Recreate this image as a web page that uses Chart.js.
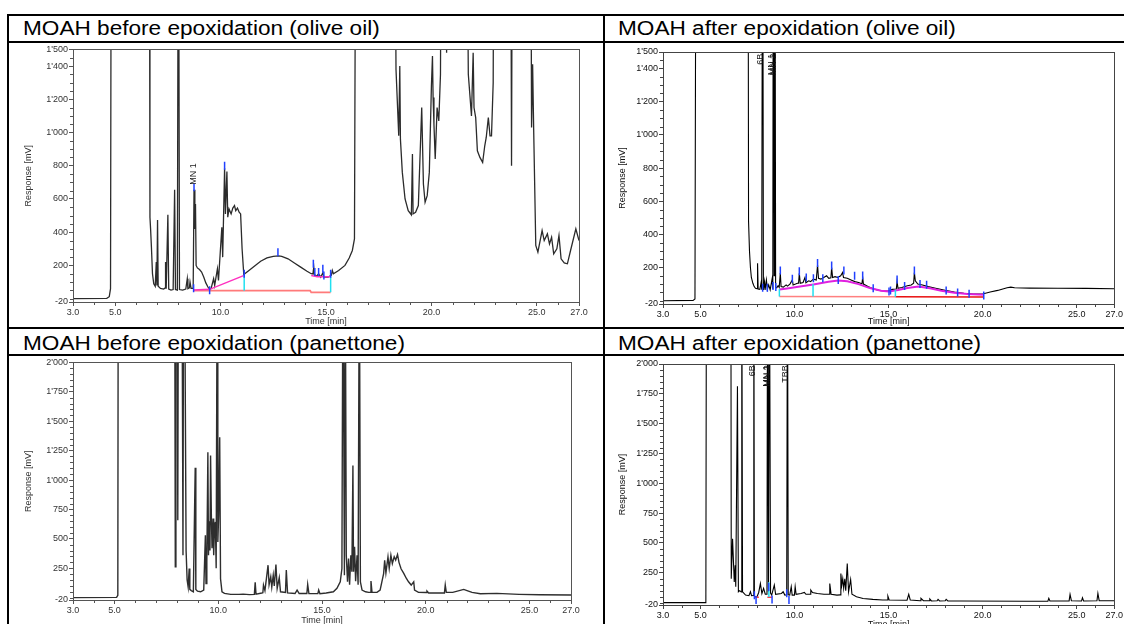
<!DOCTYPE html>
<html>
<head>
<meta charset="utf-8">
<script src="https://cdn.jsdelivr.net/npm/chart.js@4.4.0/dist/chart.umd.min.js"></script>
<style>
  body { margin: 0; background: #fff; width: 1124px; height: 624px; overflow: hidden; position: relative;
         font-family: "Liberation Sans", Arial, sans-serif; }
  .rule { position: absolute; background: #000; }
  .ttl { position: absolute; font-size: 20px; line-height: 20px; white-space: nowrap; color: #000;
         transform: scaleX(1.13); transform-origin: 0 0; }
  canvas { position: absolute; }
</style>
</head>
<body>
<div class="rule" style="left:7px;top:14px;width:1117px;height:2px"></div>
<div class="rule" style="left:7px;top:41px;width:1117px;height:2px"></div>
<div class="rule" style="left:7px;top:327px;width:1117px;height:2px"></div>
<div class="rule" style="left:7px;top:354px;width:1117px;height:2px"></div>
<div class="rule" style="left:7px;top:14px;width:2px;height:610px"></div>
<div class="rule" style="left:603px;top:14px;width:2px;height:610px"></div>

<div class="ttl" style="left:23px;top:18px">MOAH before epoxidation (olive oil)</div>
<div class="ttl" style="left:618px;top:18px">MOAH after epoxidation (olive oil)</div>
<div class="ttl" style="left:23px;top:333px">MOAH before epoxidation (panettone)</div>
<div class="ttl" style="left:618px;top:333px">MOAH after epoxidation (panettone)</div>

<canvas id="oliveBefore" width="594" height="284" style="left:9px;top:43px"></canvas>
<canvas id="oliveAfter" width="518" height="284" style="left:606px;top:43px"></canvas>
<canvas id="panBefore" width="594" height="270" style="left:9px;top:356px"></canvas>
<canvas id="panAfter" width="518" height="274" style="left:606px;top:356px"></canvas>

<script>
// ---- axis tick labels ----
const timeTicks = [3, 5, 10, 15, 20, 25, 27];
const oliveRespTicks = [-20, 200, 400, 600, 800, 1000, 1200, 1400, 1500];
const panRespTicks = [-20, 250, 500, 750, 1000, 1250, 1500, 1750, 2000];

// ---- MOAH before epoxidation (olive oil) ----
const obTime = [3.0, 4.6, 4.72, 4.78, 4.82, 6.62, 6.65, 6.68, 6.72, 6.77, 6.83, 6.9, 6.95, 6.98, 7.01, 7.04, 7.15, 7.3, 7.37, 7.39,
  7.42, 7.5, 7.54, 7.65, 7.75, 7.82, 7.86, 7.95, 8.0, 8.05, 8.2, 8.35, 8.42, 8.45, 8.52, 8.55, 8.6, 8.7, 8.74, 8.78,
  8.81, 8.84, 8.9, 9.0, 9.1, 9.2, 9.3, 9.4, 9.48, 9.55, 9.67, 9.72, 9.85, 9.9, 10.06, 10.1, 10.19, 10.23, 10.3, 10.34,
  10.4, 10.5, 10.58, 10.66, 10.72, 10.8, 10.88, 10.95, 11.02, 11.1, 11.3, 11.6, 11.9, 12.2, 12.5, 12.75, 12.9, 13.2, 13.5, 13.8,
  14.1, 14.3, 14.38, 14.42, 14.45, 14.55, 14.65, 14.75, 14.85, 14.9, 15.1, 15.25, 15.3, 15.35, 15.6, 15.9, 16.1, 16.25, 16.35, 16.42,
  18.25, 18.32, 18.45, 18.5, 18.53, 18.62, 18.75, 18.9, 19.05, 19.1, 19.13, 19.25, 19.38, 19.54, 19.62, 19.7, 19.8, 19.9, 20.0, 20.05,
  20.08, 20.12, 20.18, 20.27, 20.35, 20.43, 20.48, 20.7, 20.72, 20.74, 21.65, 21.75, 21.9, 21.98, 22.02, 22.1, 22.18, 22.3, 22.43, 22.53,
  22.6, 22.7, 22.78, 22.85, 22.93, 22.97, 23.75, 23.8, 23.85, 24.7, 24.75, 24.8, 24.85, 24.95, 25.05, 25.25, 25.35, 25.5, 25.6, 25.7,
  25.8, 25.95, 26.05, 26.15, 26.3, 26.45, 26.6, 26.85, 27.0];
const obResp = [0, 2, 12, 60, 3000, 3000, 490, 420, 310, 150, 90, 75, 220, 80, 474, 75, 62, 58, 65, 220,
  60, 505, 58, 52, 55, 656, 55, 52, 3000, 55, 52, 58, 120, 60, 65, 100, 62, 62, 655, 420,
  570, 200, 185, 175, 160, 130, 95, 70, 55, 62, 120, 80, 180, 110, 430, 250, 785, 510, 765, 490,
  540, 510, 545, 560, 530, 545, 520, 510, 300, 145, 165, 195, 225, 245, 255, 258, 255, 240, 215, 190,
  165, 150, 148, 190, 145, 135, 150, 130, 155, 130, 130, 140, 170, 150, 170, 200, 245, 290, 360, 3000,
  3000, 1380, 980, 1400, 960, 760, 600, 530, 505, 870, 510, 520, 560, 1150, 690, 580, 620, 760, 1280, 1460,
  1210, 1050, 840, 1150, 1070, 1350, 3000, 3000, 1480, 3000, 3000, 1350, 1100, 1480, 1150, 1090, 890, 850, 820, 920,
  970, 1090, 980, 980, 1300, 3000, 3000, 800, 3000, 3000, 1030, 1410, 1020, 320, 280, 410, 350, 390, 330, 370,
  270, 300, 380, 240, 215, 210, 290, 420, 350];
const obPinkTime = [8.72, 9.48, 11.12];
const obPinkResp = [52, 56, 140];
const obPink2Time = [14.3, 14.6, 15.22];
const obPink2Resp = [140, 132, 132];
const obRedTime = [8.72, 14.25, 14.3, 15.22];
const obRedResp = [48, 48, 38, 38];
const obCutTime = [11.12, 15.22];
const obCutLow = [48, 38];
const obCutHigh = [142, 134];
const obMarkTime = [8.72, 8.74, 9.48, 10.19, 11.12, 12.72, 14.4, 14.47, 14.65, 14.85, 14.9, 15.22];
const obMarkResp = [62, 670, 50, 800, 150, 280, 210, 160, 160, 180, 140, 150];
const obNames = ['MN 1'];
const obNameTime = [8.72];
const obNameResp = [750];

// ---- MOAH after epoxidation (olive oil) ----
const oaTime = [3.0, 4.6, 4.7, 4.76, 7.52, 7.55, 7.6, 7.65, 7.7, 7.78, 7.85, 7.92, 8.0, 8.03, 8.06, 8.15, 8.22, 8.25, 8.3, 8.34,
  8.4, 8.43, 8.5, 8.55, 8.62, 8.7, 8.8, 8.84, 8.87, 8.91, 8.95, 8.99, 9.05, 9.12, 9.18, 9.24, 9.28, 9.4, 9.55, 9.62,
  9.75, 9.88, 9.92, 10.05, 10.15, 10.21, 10.25, 10.3, 10.45, 10.55, 10.6, 10.75, 10.85, 11.0, 11.15, 11.22, 11.27, 11.4, 11.55, 11.7,
  11.82, 11.93, 11.97, 12.02, 12.15, 12.3, 12.45, 12.55, 12.6, 12.8, 13.0, 13.2, 13.4, 13.58, 13.62, 13.66, 13.9, 14.2, 14.5, 14.8,
  15.0, 15.2, 15.41, 15.45, 15.5, 15.7, 16.0, 16.2, 16.33, 16.37, 16.42, 16.55, 16.8, 17.1, 17.5, 18.0, 18.5, 19.0, 19.5, 20.0,
  20.4, 20.8, 21.3, 21.5, 21.7, 22.5, 24.0, 25.5, 27.0];
const oaResp = [0, 2, 10, 3000, 3000, 480, 300, 200, 140, 105, 85, 75, 72, 226, 70, 68, 110, 66, 3000, 65,
  115, 65, 125, 68, 95, 65, 130, 70, 3000, 150, 3000, 80, 78, 90, 80, 166, 85, 82, 95, 88,
  100, 125, 95, 100, 105, 105, 165, 105, 110, 140, 108, 120, 115, 130, 125, 215, 135, 130, 140, 150,
  135, 138, 200, 140, 145, 140, 150, 170, 140, 135, 125, 115, 110, 102, 140, 100, 85, 70, 62, 58,
  60, 68, 70, 115, 75, 80, 90, 95, 105, 170, 120, 100, 95, 85, 75, 62, 52, 45, 40, 40,
  52, 62, 78, 82, 78, 76, 75, 74, 72];
const oaHumpTime = [9.19, 9.6, 10.2, 11.0, 11.8, 12.32, 12.8, 13.4, 14.0, 14.6, 15.02, 15.5, 16.0, 16.58, 17.2, 17.8, 18.5, 19.19, 20.06];
const oaHumpResp = [68, 74, 84, 98, 114, 121, 117, 100, 76, 60, 55, 64, 77, 85, 75, 60, 48, 40, 36];
const oaBaseTime = [9.19, 15.36];
const oaBaseResp = [25, 24];
const oaBase2Time = [15.36, 20.06];
const oaBase2Resp = [24, 22];
const oaCutTime = [9.19, 10.98, 15.36];
const oaCutLow = [25, 25, 24];
const oaCutHigh = [70, 100, 66];
const oaMarkTime = [8.3, 8.55, 8.85, 9.0, 9.24, 9.88, 10.25, 10.62, 11.0, 11.22, 11.5, 11.97, 12.32, 12.62, 13.19, 13.62,
  14.18, 15.02, 15.1, 15.45, 15.85, 16.37, 16.67, 17.02, 18.06, 18.67, 19.28, 20.06];
const oaMarkResp = [78, 78, 88, 82, 182, 132, 178, 140, 135, 228, 135, 212, 125, 182, 150, 152,
  75, 56, 62, 128, 88, 182, 100, 96, 62, 50, 42, 32];
const oaNames = ['6B', 'MN 1', 'MN 2'];
const oaNameTime = [8.2, 8.78, 8.88];
const oaNameResp = [1490, 1490, 1490];

// ---- MOAH before epoxidation (panettone) ----
const pbTime = [3.0, 5.1, 5.16, 5.18, 7.9, 7.93, 7.96, 8.02, 8.05, 8.08, 8.25, 8.3, 8.33, 8.38, 8.41, 8.45, 8.5, 8.55, 8.6, 8.63,
  8.7, 8.8, 8.87, 8.89, 8.92, 9.0, 9.15, 9.3, 9.38, 9.41, 9.45, 9.5, 9.53, 9.56, 9.6, 9.63, 9.67, 9.7, 9.75, 9.78,
  9.82, 9.86, 9.9, 9.95, 9.98, 10.02, 10.07, 10.11, 10.18, 10.3, 10.6, 11.0, 11.2, 11.5, 11.74, 11.78, 11.82, 12.1, 12.15, 12.18,
  12.25, 12.4, 12.45, 12.53, 12.58, 12.65, 12.7, 12.78, 12.84, 12.94, 13.0, 13.24, 13.28, 13.34, 13.7, 13.8, 13.9, 14.27, 14.31, 14.37,
  14.8, 14.84, 14.9, 15.2, 15.55, 15.72, 15.88, 15.96, 16.01, 16.08, 16.12, 16.17, 16.23, 16.28, 16.33, 16.39, 16.44, 16.49, 16.52, 16.57,
  16.62, 16.69, 16.74, 16.8, 16.85, 16.93, 17.1, 17.25, 17.32, 17.36, 17.41, 17.65, 17.8, 17.97, 18.02, 18.08, 18.18, 18.24, 18.32, 18.39,
  18.48, 18.55, 18.64, 18.71, 18.81, 18.94, 19.06, 19.17, 19.3, 19.42, 19.46, 19.65, 20.02, 20.06, 20.14, 20.5, 20.9, 20.94, 20.99, 21.3,
  21.83, 21.99, 22.23, 22.63, 23.43, 24.5, 25.5, 27.0];
const pbResp = [0, 2, 20, 3000, 3000, 262, 3000, 3000, 658, 3000, 3000, 361, 3000, 3000, 1774, 400, 150, 90, 248, 70,
  60, 50, 884, 1104, 70, 55, 50, 64, 530, 120, 300, 1237, 360, 650, 400, 1209, 672, 420, 672, 360,
  600, 644, 250, 3000, 474, 700, 1364, 160, 50, 36, 28, 28, 30, 26, 28, 130, 30, 40, 42, 107,
  60, 276, 110, 177, 90, 191, 100, 282, 80, 169, 50, 45, 234, 40, 35, 64, 35, 35, 112, 35,
  34, 64, 33, 40, 50, 79, 135, 248, 3000, 191, 3000, 361, 135, 333, 110, 361, 220, 1124, 220, 432,
  140, 361, 110, 3000, 135, 64, 50, 45, 45, 141, 45, 45, 64, 205, 318, 210, 347, 250, 361, 290,
  347, 320, 367, 300, 245, 206, 165, 135, 107, 135, 64, 45, 44, 56, 40, 40, 40, 107, 45, 45,
  70, 60, 45, 33, 36, 28, 24, 22];

// ---- MOAH after epoxidation (panettone) ----
const paTime = [3.0, 5.28, 5.31, 6.61, 6.63, 6.7, 6.79, 6.84, 6.87, 6.96, 7.01, 7.08, 7.16, 7.19, 7.23, 7.26, 7.39, 7.57, 7.65, 7.71,
  7.8, 7.83, 7.86, 7.92, 8.0, 8.09, 8.18, 8.26, 8.35, 8.44, 8.53, 8.56, 8.61, 8.66, 8.72, 8.78, 8.92, 8.99, 9.3, 9.39,
  9.48, 9.58, 9.62, 9.66, 9.74, 9.82, 9.87, 9.99, 10.03, 10.08, 10.34, 10.52, 10.6, 10.82, 10.86, 10.95, 11.21, 11.56, 11.83, 11.87,
  11.94, 12.25, 12.42, 12.46, 12.51, 12.56, 12.61, 12.67, 12.72, 12.8, 12.87, 12.98, 13.05, 13.29, 13.64, 14.16, 14.68, 14.92, 14.96, 15.03,
  15.98, 16.03, 16.07, 16.15, 16.67, 16.72, 16.85, 17.15, 17.19, 17.28, 17.58, 17.63, 17.71, 18.01, 18.06, 18.15, 18.84, 22.31, 23.47, 23.52,
  23.58, 24.6, 24.65, 24.72, 25.26, 25.31, 25.37, 26.08, 26.13, 26.2, 27.0];
const paResp = [0, 0, 3000, 3000, 200, 536, 174, 313, 133, 1813, 91, 100, 90, 3000, 90, 85, 63, 58, 91, 58,
  60, 3000, 55, 49, 49, 85, 160, 75, 119, 70, 70, 3000, 90, 3000, 80, 63, 147, 70, 77, 91,
  63, 65, 3000, 65, 63, 133, 63, 63, 133, 70, 77, 85, 70, 70, 105, 85, 77, 70, 70, 160,
  70, 63, 65, 244, 147, 202, 120, 200, 100, 327, 90, 194, 70, 49, 35, 27, 22, 22, 55, 22,
  20, 20, 69, 22, 16, 36, 16, 16, 30, 14, 15, 27, 14, 15, 27, 14, 14, 11, 12, 36,
  14, 14, 69, 16, 14, 41, 14, 15, 77, 16, 16];
const paCutTime = [8.63];
const paCutLow = [48];
const paCutHigh = [170];
const paRedTime = [7.88, 8.1, 8.1, 8.55, 8.8];
const paRedResp = [45, 45, null, 45, 45];
const paMarkTime = [7.86, 7.95, 8.62, 8.8, 9.58, 9.7];
const paMarkResp = [62, 22, 130, 26, 78, 22];
const paNames = ['6B', 'MN 1', 'MN 2', 'TBB'];
const paNameTime = [7.74, 8.48, 8.58, 9.53];
const paNameResp = [1990, 1990, 1990, 1990];

// ---- helpers ----
const fmtResp = v => v >= 1000 ? Math.floor(v / 1000) + "'" + String(v % 1000).padStart(3, '0') : String(v);
const pts = (t, r) => t.map((x, i) => ({ x: x, y: r[i] }));
const cuts = (t, lo, hi) => t.flatMap((x, i) => [{ x: x, y: lo[i] }, { x: x, y: hi[i] }, { x: x, y: null }]);
const minorList = (from, to, step, skip) => {
  const out = [];
  for (let v = from; v <= to + 1e-9; v += step) if (!skip.includes(v)) out.push(v);
  return out;
};

function lineDs(data, color, width) {
  return { data: data, borderColor: color, borderWidth: width, pointRadius: 0, tension: 0, fill: false, spanGaps: false };
}
function markDs(t, r) {
  return { data: pts(t, r), showLine: false, pointStyle: 'line', rotation: 90, pointRadius: 4,
           borderColor: '#2040ff', borderWidth: 1.5, pointHoverRadius: 4 };
}

const frameTicks = {
  id: 'frameTicks',
  afterDraw(chart, args, o) {
    const { ctx, chartArea: a, scales: { x, y } } = chart;
    ctx.save();
    ctx.strokeStyle = o.color;
    ctx.lineWidth = 1;
    ctx.beginPath();
    o.xMinor.forEach(v => {
      const px = Math.round(x.getPixelForValue(v)) + 0.5;
      ctx.moveTo(px, a.bottom); ctx.lineTo(px, a.bottom + 3);
    });
    o.yMinor.forEach(v => {
      const py = Math.round(y.getPixelForValue(v)) + 0.5;
      ctx.moveTo(a.left - 3, py); ctx.lineTo(a.left, py);
    });
    ctx.stroke();
    ctx.strokeRect(Math.round(a.left) + 0.5, Math.round(a.top) + 0.5, Math.round(a.right - a.left), Math.round(a.bottom - a.top));
    ctx.restore();
  }
};

const peakNames = {
  id: 'peakNames',
  afterDatasetsDraw(chart, args, o) {
    const { ctx, scales: { x, y } } = chart;
    ctx.save();
    ctx.font = o.font;
    ctx.fillStyle = o.color;
    o.names.forEach((name, i) => {
      ctx.save();
      ctx.translate(x.getPixelForValue(o.times[i]), y.getPixelForValue(o.resp[i]));
      ctx.rotate(-Math.PI / 2);
      ctx.textAlign = o.align;
      ctx.textBaseline = 'middle';
      ctx.fillText(name, 0, 0);
      ctx.restore();
    });
    ctx.restore();
  }
};

function panel(id, p) {
  return new Chart(document.getElementById(id), {
    type: 'line',
    data: { datasets: p.datasets },
    options: {
      responsive: false, animation: false, devicePixelRatio: 1,
      layout: { padding: p.pad },
      plugins: {
        legend: { display: false }, tooltip: { enabled: false },
        frameTicks: { color: p.axisColor, xMinor: minorList(4, 26, 1, timeTicks), yMinor: p.yMinor },
        peakNames: p.names
      },
      scales: {
        x: {
          type: 'linear', min: 3, max: 27,
          afterBuildTicks: s => { s.ticks = timeTicks.map(v => ({ value: v })); },
          afterFit: s => { s.height = p.xHeight; },
          ticks: { autoSkip: false, maxRotation: 0, padding: 1, color: p.textColor,
                   font: { family: 'Liberation Sans', size: 9 }, callback: v => v.toFixed(1) },
          grid: { drawOnChartArea: false, tickLength: 4, color: p.axisColor },
          border: { color: p.axisColor },
          title: { display: true, text: 'Time [min]', color: p.textColor, padding: 0,
                   font: { family: 'Liberation Sans', size: 9 } }
        },
        y: {
          type: 'linear', min: -20, max: p.yMax,
          afterBuildTicks: s => { s.ticks = p.yTicks.map(v => ({ value: v })); },
          afterFit: s => { s.width = 50; },
          ticks: { autoSkip: false, padding: 1, color: p.textColor,
                   font: { family: 'Liberation Sans', size: 9 }, callback: v => fmtResp(v) },
          grid: { drawOnChartArea: false, tickLength: 4, color: p.axisColor },
          border: { color: p.axisColor },
          title: { display: true, text: 'Response [mV]', color: p.textColor, padding: p.yTitlePad,
                   font: { family: 'Liberation Sans', size: 9 } }
        }
      }
    },
    plugins: [frameTicks, peakNames]
  });
}

const labelFont = '9px "Liberation Sans"';

panel('oliveBefore', {
  pad: { left: 14, right: 24, top: 5, bottom: 0 }, xHeight: 25, yMax: 1500, yTicks: oliveRespTicks,
  yMinor: minorList(0, 1450, 50, oliveRespTicks), yTitlePad: 0, axisColor: '#555', textColor: '#333',
  names: { names: obNames, times: obNameTime, resp: obNameResp, align: 'center', font: labelFont, color: '#222' },
  datasets: [
    markDs(obMarkTime, obMarkResp),
    lineDs(cuts(obCutTime, obCutLow, obCutHigh), '#20e0f0', 1.5),
    lineDs(pts(obPinkTime, obPinkResp), '#ff30c0', 1.5),
    lineDs(pts(obPink2Time, obPink2Resp), '#ff30c0', 1.5),
    lineDs(pts(obRedTime, obRedResp), '#ff7a7a', 1.8),
    lineDs(pts(obTime, obResp), '#2b2b2b', 1.3)
  ]
});

panel('oliveAfter', {
  pad: { left: 7, right: 1, top: 9, bottom: 0 }, xHeight: 23, yMax: 1500, yTicks: oliveRespTicks,
  yMinor: minorList(0, 1450, 50, oliveRespTicks), yTitlePad: 4, axisColor: '#444', textColor: '#111',
  names: { names: oaNames, times: oaNameTime, resp: oaNameResp, align: 'right', font: labelFont, color: '#111' },
  datasets: [
    markDs(oaMarkTime, oaMarkResp),
    lineDs(cuts(oaCutTime, oaCutLow, oaCutHigh), '#20e0f0', 1.5),
    lineDs(pts(oaHumpTime, oaHumpResp), '#e020e0', 2),
    lineDs(pts(oaBaseTime, oaBaseResp), '#ff8080', 1.5),
    lineDs(pts(oaBase2Time, oaBase2Resp), '#e81010', 1.5),
    lineDs(pts(oaTime, oaResp), '#000', 1.1)
  ]
});

panel('panBefore', {
  pad: { left: 14, right: 32, top: 6, bottom: 0 }, xHeight: 26, yMax: 2000, yTicks: panRespTicks,
  yMinor: minorList(0, 1950, 50, panRespTicks), yTitlePad: 0, axisColor: '#555', textColor: '#333',
  names: { names: [], times: [], resp: [], align: 'center', font: labelFont, color: '#222' },
  datasets: [
    lineDs(pts(pbTime, pbResp), '#2e2e2e', 1.4)
  ]
});

panel('panAfter', {
  pad: { left: 7, right: 1, top: 8, bottom: 0 }, xHeight: 25, yMax: 2000, yTicks: panRespTicks,
  yMinor: minorList(0, 1950, 50, panRespTicks), yTitlePad: 4, axisColor: '#444', textColor: '#111',
  names: { names: paNames, times: paNameTime, resp: paNameResp, align: 'right', font: labelFont, color: '#111' },
  datasets: [
    markDs(paMarkTime, paMarkResp),
    lineDs(cuts(paCutTime, paCutLow, paCutHigh), '#20e0f0', 1.5),
    lineDs(pts(paRedTime, paRedResp), '#ff4040', 1.3),
    lineDs(pts(paTime, paResp), '#000', 1.1)
  ]
});
</script>
</body>
</html>
